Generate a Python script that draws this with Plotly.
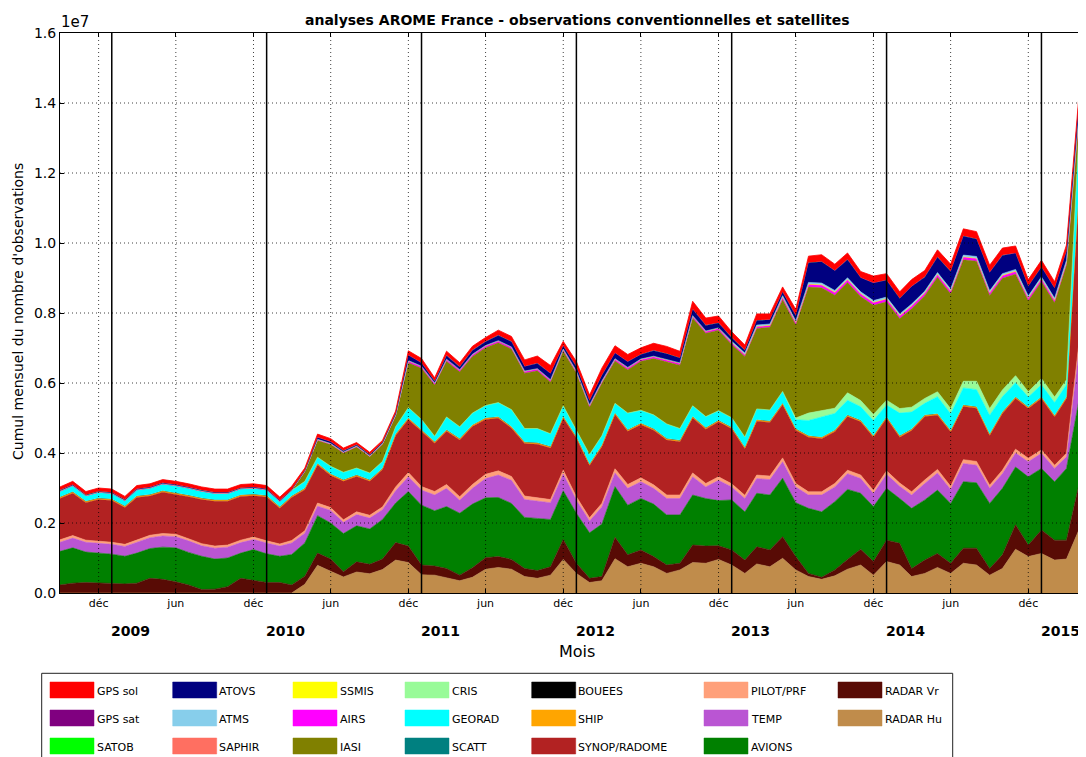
import numpy as np
import pandas as pd
import plotly.graph_objects as go

# ---------------- data (monthly totals, millions of observations) ----------------
months = pd.date_range("2008-09-01", "2015-05-01", freq="MS")  # 81 months

radar_hu = [0,0,0,0,0,0,0,0,0,0,0,0,0,0,0,0,0,0,0,
            .25,.79,.62,.46,.60,.55,.67,.94,
            .87,.52,.51,.44,.35,.45,.68,.73,.68,.47,
            .42,.51,.96,.56,.30,.35,.98,.75,.85,.75,
            .56,.66,.87,.85,.96,.80,.56,.83,.75,.99,
            .66,.47,.39,.49,.68,.80,.51,.90,.80,.47,
            .56,.73,.56,.85,.80,.51,.70,1.25,1.04,1.13,
            .94,.97,1.85,2.00]
radar_vr = [.23,.28,.30,.29,.26,.26,.28,.42,.39,.32,.23,.10,.11,.18,.42,.37,.30,.30,.23,
            .23,.35,.35,.15,.29,.27,.30,.50,
            .47,.28,.26,.26,.16,.27,.33,.31,.28,.23,
            .22,.24,.57,.29,.12,.12,.61,.34,.38,.29,
            .24,.19,.50,.49,.39,.43,.38,.49,.48,.62,
            .38,.09,.06,.17,.28,.45,.39,.61,.62,.23,
            .38,.40,.29,.43,.48,.19,.39,.70,.33,.67,
            .57,.54,1.33,1.35]
avions = [.96,1.01,.87,.85,.85,.79,.86,.85,.92,.97,.93,.95,.86,.82,.72,.87,.82,.75,.87,
          .95,1.07,1.03,1.09,1.03,1.01,1.13,1.13,
          1.56,1.71,1.58,1.77,1.77,1.82,1.71,1.69,1.60,1.46,
          1.49,1.35,1.39,1.43,1.30,1.50,1.45,1.42,1.47,1.50,
          1.43,1.38,1.43,1.36,1.29,1.43,1.38,1.53,1.57,1.67,
          1.54,1.86,1.87,1.95,2.00,1.60,1.57,1.48,1.28,1.72,
          1.72,1.81,1.71,1.90,1.87,1.86,1.90,1.65,1.95,1.76,
          1.67,2.05,2.43,2.50]
temp = [.26,.28,.28,.29,.28,.28,.30,.31,.32,.32,.33,.30,.31,.31,.30,.29,.31,.29,.33,
        .28,.27,.36,.32,.32,.31,.28,.35,
        .42,.43,.45,.52,.37,.45,.55,.64,.66,.51,
        .50,.48,.48,.37,.34,.49,.39,.48,.48,.45,
        .47,.47,.52,.33,.58,.37,.38,.42,.44,.47,
        .45,.38,.48,.42,.45,.42,.37,.40,.35,.38,
        .47,.49,.40,.52,.50,.43,.42,.40,.43,.43,
        .38,.33,1.51,1.55]
pilot = [.07,.07,.06,.06,.06,.06,.07,.07,.07,.07,.06,.06,.06,.06,.07,.07,.06,.06,.07,
         .07,.09,.08,.07,.08,.08,.08,.11,
         .12,.10,.10,.11,.10,.11,.12,.12,.11,.10,
         .10,.09,.11,.10,.09,.10,.12,.11,.11,.10,
         .10,.10,.11,.10,.10,.09,.09,.10,.10,.11,
         .10,.09,.09,.10,.10,.10,.09,.10,.09,.09,
         .10,.10,.09,.11,.11,.09,.10,.11,.10,.10,
         .09,.10,.20,.20]
synop = [1.18,1.21,1.07,1.18,1.19,1.05,1.22,1.12,1.18,1.14,1.20,1.26,1.28,1.25,1.25,1.18,1.25,1.02,1.23,
         1.17,1.09,.92,1.10,1.01,.97,1.06,1.47,
         1.52,1.57,1.38,1.52,1.62,1.66,1.57,1.50,1.38,1.50,
         1.52,1.47,1.49,1.67,1.49,1.62,1.55,1.52,1.52,1.56,
         1.57,1.52,1.57,1.55,1.57,1.57,1.33,1.54,1.53,1.52,
         1.52,1.56,1.52,1.48,1.53,1.52,1.52,1.50,1.31,1.75,
         1.81,1.55,1.55,1.52,1.52,1.42,1.62,1.45,1.42,1.47,
         1.38,1.57,4.43,4.50]
ship = [.03,.03,.03,.03,.03,.03,.03,.03,.03,.03,.03,.03,.03,.03,.03,.03,.03,.03,.03,
        .03,.03,.03,.03,.03,.03,.03,.03,
        .03,.03,.03,.03,.03,.03,.03,.03,.03,.03,
        .03,.03,.03,.03,.03,.03,.03,.03,.03,.03,
        .03,.03,.03,.03,.03,.03,.03,.03,.03,.03,
        .03,.03,.03,.03,.03,.03,.03,.03,.03,.03,
        .03,.03,.03,.03,.03,.03,.03,.03,.03,.03,
        .03,.03,.13,.13]
bouees = [.01,.01,.01,.01,.01,.01,.01,.01,.01,.01,.01,.01,.01,.01,.01,.01,.01,.01,.01,
          .01,.01,.01,.01,.01,.01,.01,.01,
          .01,.01,.01,.01,.01,.01,.01,.01,.01,.01,
          .01,.01,.01,.01,.01,.01,.01,.01,.01,.01,
          .01,.01,.01,.01,.01,.01,.01,.01,.01,.01,
          .01,.01,.01,.01,.01,.01,.01,.01,.01,.01,
          .01,.01,.01,.01,.01,.01,.01,.01,.01,.01,
          .01,.01,.01,.01]
scatt = [.01,.01,.01,.01,.01,.01,.01,.01,.01,.01,.01,.01,.01,.01,.01,.01,.01,.01,.01,
         .01,.01,.01,.01,.01,.01,.01,.01,
         .01,.01,.01,.01,.01,.01,.01,.01,.01,.01,
         .01,.01,.01,.01,.01,.01,.01,.01,.01,.01,
         .01,.01,.01,.01,.01,.01,.01,.01,.01,.01,
         .01,.01,.01,.01,.01,.01,.01,.01,.01,.01,
         .01,.01,.01,.01,.01,.01,.01,.01,.01,.01,
         .01,.01,.01,.01]
georad = [.16,.17,.15,.16,.16,.15,.17,.18,.19,.20,.20,.19,.18,.18,.17,.17,.16,.15,.15,
          .19,.17,.21,.21,.19,.19,.19,.20,
          .29,.30,.15,.36,.33,.33,.35,.40,.48,.38,
          .40,.36,.30,.18,.27,.26,.27,.47,.36,.39,
          .41,.33,.30,.31,.27,.27,.29,.30,.31,.33,
          .25,.43,.57,.47,.42,.38,.43,.33,.64,.48,
          .33,.48,.47,.48,.48,.53,.43,.40,.28,.34,
          .36,.34,1.65,1.70]
cris = [0,0,0,0,0,0,0,0,0,0,0,0,0,0,0,0,0,0,0,
        0,0,0,0,0,0,0,0,
        0,0,0,0,0,0,0,0,0,0,
        0,0,0,0,0,0,0,0,0,0,
        0,0,0,0,0,0,0,0,0,0,
        .05,.21,.19,.15,.21,.18,.17,.14,.13,.14,
        .14,.14,.15,.19,.24,.19,.19,.20,.15,.18,
        .16,.14,.03,.03]
iasi = [0,0,0,0,0,0,0,0,0,0,0,0,0,0,0,0,0,0,0,
        .27,.48,.62,.55,.60,.46,.48,.31,
        1.28,1.46,1.46,1.59,1.57,1.62,1.65,1.71,1.73,1.58,
        1.65,1.48,1.56,1.63,1.35,1.50,1.21,1.24,1.40,1.61,
        1.78,1.81,2.51,2.38,2.30,2.09,2.30,2.30,2.36,2.62,
        2.66,3.60,3.50,3.23,3.15,2.97,3.12,2.81,2.57,2.81,
        2.93,3.27,3.28,3.47,3.43,3.23,3.19,2.90,2.60,2.77,
        2.69,3.28,.27,.28]
airs = [0,0,0,0,0,0,0,0,0,0,0,0,0,0,0,0,0,0,0,
        .02,.02,.02,.02,.02,.02,.02,.02,
        .05,.05,.05,.05,.05,.05,.05,.05,.05,.05,
        .05,.05,.05,.05,.05,.05,.05,.05,.05,.05,
        .05,.05,.05,.05,.05,.05,.05,.05,.05,.07,
        .07,.07,.07,.07,.07,.07,.07,.07,.07,.07,
        .07,.07,.07,.07,.07,.07,.07,.07,.07,.07,
        .07,.07,.02,.02]
ssmis = [.01,.01,.01,.01,.01,.01,.01,.01,.01,.01,.01,.01,.01,.01,.01,.01,.01,.01,.01,
         .01,.01,.01,.01,.01,.01,.01,.01,
         .01,.01,.01,.01,.01,.01,.01,.01,.01,.01,
         .01,.01,.01,.01,.01,.01,.01,.01,.01,.01,
         .01,.01,.01,.01,.01,.01,.01,.01,.01,.01,
         .01,.02,.02,.02,.02,.02,.02,.02,.02,.02,
         .02,.02,.02,.02,.02,.02,.02,.02,.02,.02,
         .02,.02,.05,.05]
saphir = [0,0,0,0,0,0,0,0,0,0,0,0,0,0,0,0,0,0,0,
          0,0,0,0,0,0,0,0,
          0,0,0,0,0,0,0,0,0,0,
          0,0,0,.005,.005,.005,.005,.005,.005,.005,
          .005,.005,.005,.005,.005,.005,.005,.005,.005,.005,
          .005,.005,.005,.005,.005,.005,.005,.005,.005,.005,
          .005,.005,.005,.005,.005,.005,.005,.005,.005,.005,
          .005,.005,.005,.005]
atms = [0,0,0,0,0,0,0,0,0,0,0,0,0,0,0,0,0,0,0,
        0,0,0,0,0,0,0,0,
        0,0,0,0,0,0,0,0,0,0,
        0,0,0,0,0,0,0,0,0,0,
        0,0,0,0,0,.03,.03,.03,.03,.03,
        .03,.04,.04,.04,.04,.04,.04,.04,.04,.04,
        .04,.04,.04,.04,.04,.04,.04,.04,.04,.04,
        .04,.04,.04,.04]
atovs = [.01,.01,.01,.01,.01,.01,.01,.01,.01,.01,.01,.01,.01,.01,.01,.01,.01,.01,.01,
         .01,.05,.05,.03,.03,.03,.03,.04,
         .15,.09,.05,.10,.08,.11,.11,.15,.15,.13,
         .15,.18,.09,.12,.12,.16,.16,.16,.13,.16,
         .16,.14,.18,.16,.14,.10,.08,.13,.12,.10,
         .15,.56,.61,.56,.52,.40,.50,.48,.44,.50,
         .40,.44,.50,.54,.50,.52,.52,.46,.28,.28,
         .28,.26,.30,.32]
satob = [.005,.005,.005,.005,.005,.005,.005,.005,.005,.005,.005,.005,.005,.005,.005,.005,.005,.005,.005,
         .005,.005,.005,.005,.005,.005,.005,.005,
         .005,.005,.005,.005,.005,.005,.005,.005,.005,.005,
         .005,.005,.005,.005,.005,.005,.005,.005,.005,.005,
         .005,.005,.005,.005,.005,.005,.005,.005,.005,.005,
         .005,.005,.005,.005,.005,.005,.005,.005,.005,.005,
         .005,.005,.005,.005,.005,.005,.005,.005,.005,.005,
         .005,.005,.005,.005]
gps_sat = [.005,.005,.005,.005,.005,.005,.005,.005,.005,.005,.005,.005,.005,.005,.005,.005,.005,.005,.005,
           .005,.005,.005,.005,.005,.005,.005,.005,
           .005,.005,.005,.005,.005,.005,.005,.005,.005,.005,
           .005,.005,.005,.005,.005,.005,.005,.005,.005,.005,
           .005,.005,.005,.005,.005,.005,.005,.005,.005,.005,
           .005,.005,.005,.005,.005,.005,.005,.005,.005,.005,
           .005,.005,.005,.005,.005,.005,.005,.005,.005,.005,
           .005,.005,.005,.005]
gps_sol = [.09,.09,.09,.09,.09,.09,.09,.09,.09,.09,.09,.09,.09,.09,.09,.09,.09,.09,.09,
           .06,.09,.08,.07,.06,.06,.05,.06,
           .12,.12,.09,.12,.11,.11,.11,.14,.14,.18,
           .20,.22,.12,.14,.15,.20,.20,.20,.18,.20,
           .20,.18,.22,.20,.19,.16,.14,.18,.16,.14,
           .17,.18,.19,.18,.18,.17,.19,.18,.18,.19,
           .18,.20,.20,.20,.20,.20,.20,.20,.18,.18,
           .18,.17,.18,.20]

# stacking order bottom -> top : (name, values, colour, edge width)
series = [
    ("RADAR Hu", radar_hu, "#c08c4b", 0.6),
    ("RADAR Vr", radar_vr, "#580b05", 0.6),
    ("AVIONS", avions, "#008000", 0.6),
    ("TEMP", temp, "#ba55d3", 0.6),
    ("PILOT/PRF", pilot, "#ffa07a", 0.6),
    ("SYNOP/RADOME", synop, "#b22222", 0.6),
    ("SHIP", ship, "#ffa500", 0.8),
    ("BOUEES", bouees, "#000000", 0),
    ("SCATT", scatt, "#008080", 0),
    ("GEORAD", georad, "#00ffff", 0.6),
    ("CRIS", cris, "#98fb98", 0.6),
    ("IASI", iasi, "#808000", 0.6),
    ("AIRS", airs, "#ff00ff", 0.8),
    ("SSMIS", ssmis, "#ffff00", 0.6),
    ("SAPHIR", saphir, "#ff6f61", 0),
    ("ATMS", atms, "#87ceeb", 0.6),
    ("ATOVS", atovs, "#000080", 0.6),
    ("SATOB", satob, "#00ff00", 0),
    ("GPS sat", gps_sat, "#800080", 0),
    ("GPS sol", gps_sol, "#ff0000", 0.8),
]
legend_order = ["GPS sol", "GPS sat", "SATOB", "ATOVS", "ATMS", "SAPHIR", "SSMIS",
                "AIRS", "IASI", "CRIS", "GEORAD", "SCATT", "BOUEES", "SHIP",
                "SYNOP/RADOME", "PILOT/PRF", "TEMP", "AVIONS", "RADAR Vr", "RADAR Hu"]

y_ticks = [0, 2e6, 4e6, 6e6, 8e6, 10e6, 12e6, 14e6, 16e6]
y_ticktext = ["0.0", "0.2", "0.4", "0.6", "0.8", "1.0", "1.2", "1.4", "1.6"]
x_tickdates = ["2008-12-01", "2009-06-01", "2009-12-01", "2010-06-01", "2010-12-01",
               "2011-06-01", "2011-12-01", "2012-06-01", "2012-12-01", "2013-06-01",
               "2013-12-01", "2014-06-01", "2014-12-01"]
x_ticktext = ["déc", "jun", "déc", "jun", "déc", "jun", "déc", "jun", "déc", "jun",
              "déc", "jun", "déc"]
years = ["2009", "2010", "2011", "2012", "2013", "2014", "2015"]

# ---------------- layout geometry (page pixels) ----------------
OFF = 8                      # default body margin of the html page
W, H = 1086 - OFF, 757 - OFF
PL, PR, PT, PB = 60, 1086, 33, 593   # plot area in page pixels
FONT = "DejaVu Sans, Liberation Sans, sans-serif"


def fx(x):
    return (x - PL) / (PR - PL)


def fy(y):
    return (PB - y) / (PB - PT)


fig = go.Figure()
for name, vals, col, lw in series:
    fig.add_trace(go.Scatter(
        x=months, y=np.array(vals) * 1e6, name=name, stackgroup="one",
        mode="lines", line=dict(width=lw, color=col), fillcolor=col,
        showlegend=False, hoverinfo="x+y+name"))

shapes = []
# dotted grid drawn over the areas
for v in y_ticks[1:-1]:
    shapes.append(dict(type="line", xref="paper", yref="y", x0=0, x1=1, y0=v, y1=v,
                       line=dict(color="rgba(0,0,0,0.75)", width=1, dash="1px,3px"),
                       layer="above"))
for d in x_tickdates:
    shapes.append(dict(type="line", xref="x", yref="paper", x0=d, x1=d, y0=0, y1=1,
                       line=dict(color="rgba(0,0,0,0.75)", width=1, dash="1px,3px"),
                       layer="above"))
# solid year separators
for yr in years:
    shapes.append(dict(type="line", xref="x", yref="paper", x0=f"{yr}-01-01",
                       x1=f"{yr}-01-01", y0=0, y1=1,
                       line=dict(color="black", width=1.5), layer="above"))

annotations = []
# year labels
for yr in years:
    annotations.append(dict(x=f"{yr}-02-14", y=fy(631), xref="x", yref="paper",
                            text=f"<b>{yr}</b>", showarrow=False,
                            font=dict(size=14, family=FONT, color="black"),
                            xanchor="center", yanchor="middle"))
annotations += [
    dict(x=fx(577), y=fy(20), xref="paper", yref="paper",
         text="<b>analyses AROME France - observations conventionnelles et satellites</b>",
         showarrow=False, font=dict(size=14, family=FONT, color="black"),
         xanchor="center", yanchor="middle"),
    dict(x=fx(59), y=fy(22), xref="paper", yref="paper", text="1e7", showarrow=False,
         font=dict(size=15, family=FONT, color="black"), xanchor="left", yanchor="middle"),
    dict(x=fx(18), y=fy(312), xref="paper", yref="paper",
         text="Cumul mensuel du nombre d'observations", showarrow=False, textangle=-90,
         font=dict(size=14, family=FONT, color="black"), xanchor="center", yanchor="middle"),
    dict(x=fx(577), y=fy(651), xref="paper", yref="paper", text="Mois", showarrow=False,
         font=dict(size=16, family=FONT, color="black"), xanchor="center", yanchor="middle"),
]

# legend (3 rows x 7 columns, column-major like the original)
colour_of = {n: c for n, _, c, _ in series}
col_x = [50, 172.7, 293, 405, 531.7, 704, 838]
row_y = [690, 718, 746]
shapes.append(dict(type="rect", xref="paper", yref="paper", x0=fx(41.7), x1=fx(952.7),
                   y0=fy(673.3), y1=fy(800), line=dict(color="#222222", width=1),
                   fillcolor="white", layer="above"))
for k, name in enumerate(legend_order):
    cx, ry = col_x[k // 3], row_y[k % 3]
    shapes.append(dict(type="rect", xref="paper", yref="paper", x0=fx(cx), x1=fx(cx + 44),
                       y0=fy(ry - 8), y1=fy(ry + 8), fillcolor=colour_of[name],
                       line=dict(color=colour_of[name], width=0.5), layer="above"))
    annotations.append(dict(x=fx(cx + 44.5), y=fy(ry + 1.5), xref="paper", yref="paper",
                            text=name, showarrow=False, xanchor="left", yanchor="middle",
                            font=dict(size=11, family=FONT, color="black")))

fig.update_layout(
    width=W, height=H,
    margin=dict(l=PL - OFF, r=1086 - PR, t=PT - OFF, b=757 - PB, pad=0),
    paper_bgcolor="white", plot_bgcolor="white",
    font=dict(family=FONT, color="black"),
    shapes=shapes, annotations=annotations, showlegend=False,
    xaxis=dict(type="date", range=["2008-09-01", "2015-04-16"],
               tickmode="array", tickvals=x_tickdates, ticktext=x_ticktext,
               tickfont=dict(size=11, family=FONT, color="black"),
               ticks="inside", ticklen=4, tickcolor="black",
               showline=True, linecolor="black", linewidth=1, mirror="ticks",
               showgrid=False, zeroline=False),
    yaxis=dict(range=[0, 1.6e7], tickmode="array", tickvals=y_ticks, ticktext=y_ticktext,
               tickfont=dict(size=14, family=FONT, color="black"),
               ticks="inside", ticklen=4, tickcolor="black",
               showline=True, linecolor="black", linewidth=1, mirror=False,
               showgrid=False, zeroline=False),
)

fig.write_html("out.html")
